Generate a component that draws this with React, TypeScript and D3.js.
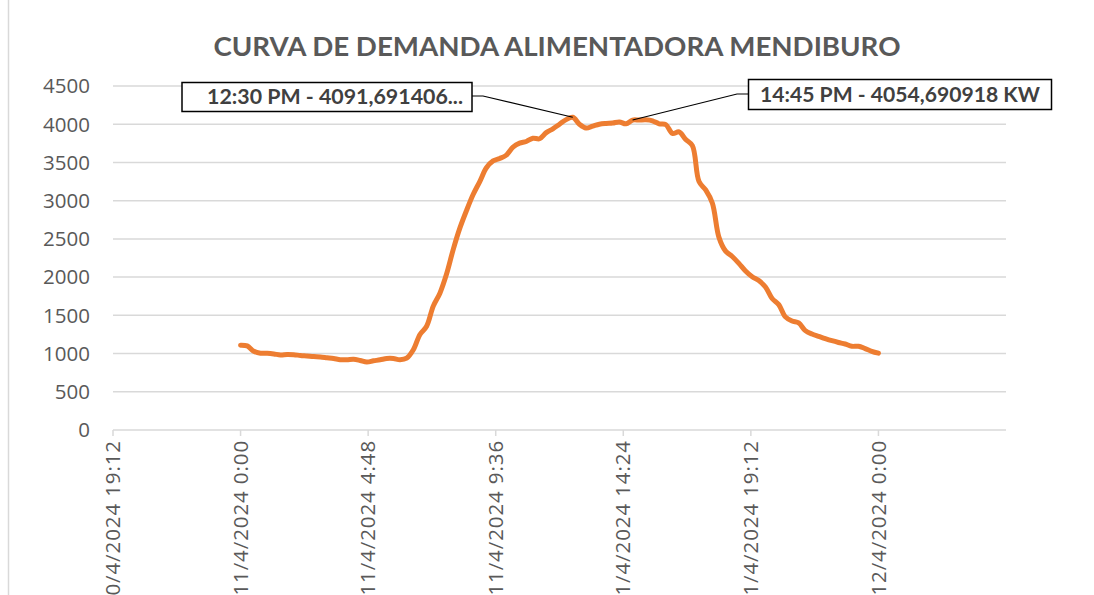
import React from "react";
import * as d3 from "d3";

const TITLE = "CURVA DE DEMANDA ALIMENTADORA MENDIBURO";

// x-axis tick labels (d/M/yyyy H:mm)
const xTickLabels = [
  "10/4/2024 19:12",
  "11/4/2024 0:00",
  "11/4/2024 4:48",
  "11/4/2024 9:36",
  "11/4/2024 14:24",
  "11/4/2024 19:12",
  "12/4/2024 0:00",
];
const xDomainLabels = ["10/4/2024 19:12", "12/4/2024 4:48"];
const yTicks = [0, 500, 1000, 1500, 2000, 2500, 3000, 3500, 4000, 4500];

// Demand (kW) every 15 minutes, 11/4/2024 0:00 -> 12/4/2024 0:00
const seriesStart = "11/4/2024 0:00";
const stepMinutes = 15;
const demand = [
  1110, 1100, 1030, 1005, 1003, 995, 982, 988, 985, 975,
  968, 960, 955, 945, 935, 920, 918, 925, 910, 890,
  905, 918, 935, 935, 920, 940, 1050, 1250, 1357, 1620,
  1790, 2040, 2360, 2640, 2870, 3080, 3250, 3430, 3520, 3552,
  3596, 3700, 3752, 3774, 3817, 3810, 3890, 3940, 4000, 4060,
  4091.691406, 4000, 3950, 3975, 4000, 4010, 4015, 4030, 4005, 4054.690918,
  4055, 4058, 4045, 4005, 3995, 3880, 3900, 3800, 3720, 3250,
  3140, 2970, 2520, 2340, 2270, 2180, 2080, 2005, 1955, 1870,
  1720, 1640, 1480, 1425, 1400, 1300, 1255, 1225, 1195, 1168,
  1145, 1125, 1095, 1096, 1065, 1030, 1005,
];

// annotations
const annotations = [
  { label: "12:30 PM - 4091,691406...", index: 50 },
  { label: "14:45 PM - 4054,690918 KW", index: 59 },
];

const parse = d3.timeParse("%d/%m/%Y %H:%M");

export default function App() {
  const W = 1094;
  const H = 595;
  const left = 113;
  const right = 1006;
  const top = 86;
  const bottom = 430;

  const x = d3
    .scaleTime()
    .domain(xDomainLabels.map((s) => parse(s) as Date))
    .range([left, right]);
  const y = d3.scaleLinear().domain([0, 4500]).range([bottom, top]);

  const t0 = (parse(seriesStart) as Date).getTime();
  const pts = demand.map((v, i) => ({
    t: new Date(t0 + i * stepMinutes * 60000),
    v,
  }));

  const line = d3
    .line<{ t: Date; v: number }>()
    .x((d) => x(d.t))
    .y((d) => y(d.v))
    .curve(d3.curveCatmullRom.alpha(0.5));

  const grey = "#595959";
  const grid = "#d9d9d9";

  const p1 = pts[annotations[0].index];
  const p2 = pts[annotations[1].index];

  return (
    <div style={{ position: "absolute", left: 0, top: 0 }}>
      <svg width={W} height={H} style={{ display: "block" }}>
        <rect x={0} y={0} width={W} height={H} fill="#fff" />
        <line x1={8.5} x2={8.5} y1={0} y2={H} stroke={grid} strokeWidth={1.5} />
        <text
          x={557}
          y={56}
          textAnchor="middle"
          fontFamily="Lato, 'Open Sans', sans-serif"
          fontWeight={700}
          fontSize={26}
          fill={grey}
          textLength={687}
          lengthAdjust="spacingAndGlyphs"
        >
          {TITLE}
        </text>

        {/* gridlines */}
        {yTicks
          .filter((t) => t > 0)
          .map((t) => (
            <line
              key={t}
              x1={left}
              x2={right}
              y1={y(t)}
              y2={y(t)}
              stroke={grid}
              strokeWidth={1.5}
            />
          ))}
        {/* x axis */}
        <line x1={left} x2={right} y1={bottom} y2={bottom} stroke={grid} strokeWidth={1.5} />
        {xTickLabels.map((s) => {
          const xx = x(parse(s) as Date);
          return (
            <g key={s}>
              <line x1={xx} x2={xx} y1={bottom} y2={bottom + 6} stroke={grid} strokeWidth={1.5} />
              <text
                transform={`translate(${xx},${bottom + 10}) rotate(-90)`}
                textAnchor="end"
                dy="0.35em"
                fontFamily="'Open Sans', sans-serif"
                fontSize={20.5}
                letterSpacing={0.9}
                fill={grey}
              >
                {s}
              </text>
            </g>
          );
        })}
        {/* y labels */}
        {yTicks.map((t) => (
          <text
            key={t}
            x={90}
            y={y(t)}
            dy="0.36em"
            textAnchor="end"
            fontFamily="'Open Sans', sans-serif"
            fontSize={20.5}
            fill={grey}
          >
            {t}
          </text>
        ))}

        {/* series */}
        <path
          d={line(pts) as string}
          fill="none"
          stroke="#ED7D31"
          strokeWidth={5}
          strokeLinejoin="round"
          strokeLinecap="round"
        />

        {/* annotation 1 */}
        <polyline
          points={`472,96 483,96 ${x(p1.t)},${y(p1.v)}`}
          fill="none"
          stroke="#000"
          strokeWidth={1.2}
        />
        <rect x={182} y={82.5} width={290} height={29} fill="#fff" stroke="#000" strokeWidth={1.5} />
        <text
          x={207}
          y={104}
          fontFamily="Lato, sans-serif"
          fontWeight={700}
          fontSize={20}
          fill="#404040"
          textLength={256}
          lengthAdjust="spacingAndGlyphs"
        >
          {annotations[0].label}
        </text>

        {/* annotation 2 */}
        <polyline
          points={`748,94 737,94 ${x(p2.t)},${y(p2.v)}`}
          fill="none"
          stroke="#000"
          strokeWidth={1.2}
        />
        <rect x={748.5} y={79.5} width={303} height={30} fill="#fff" stroke="#000" strokeWidth={1.5} />
        <text
          x={760}
          y={101.5}
          fontFamily="Lato, sans-serif"
          fontWeight={700}
          fontSize={20}
          fill="#404040"
          textLength={280}
          lengthAdjust="spacingAndGlyphs"
        >
          {annotations[1].label}
        </text>
      </svg>
    </div>
  );
}
